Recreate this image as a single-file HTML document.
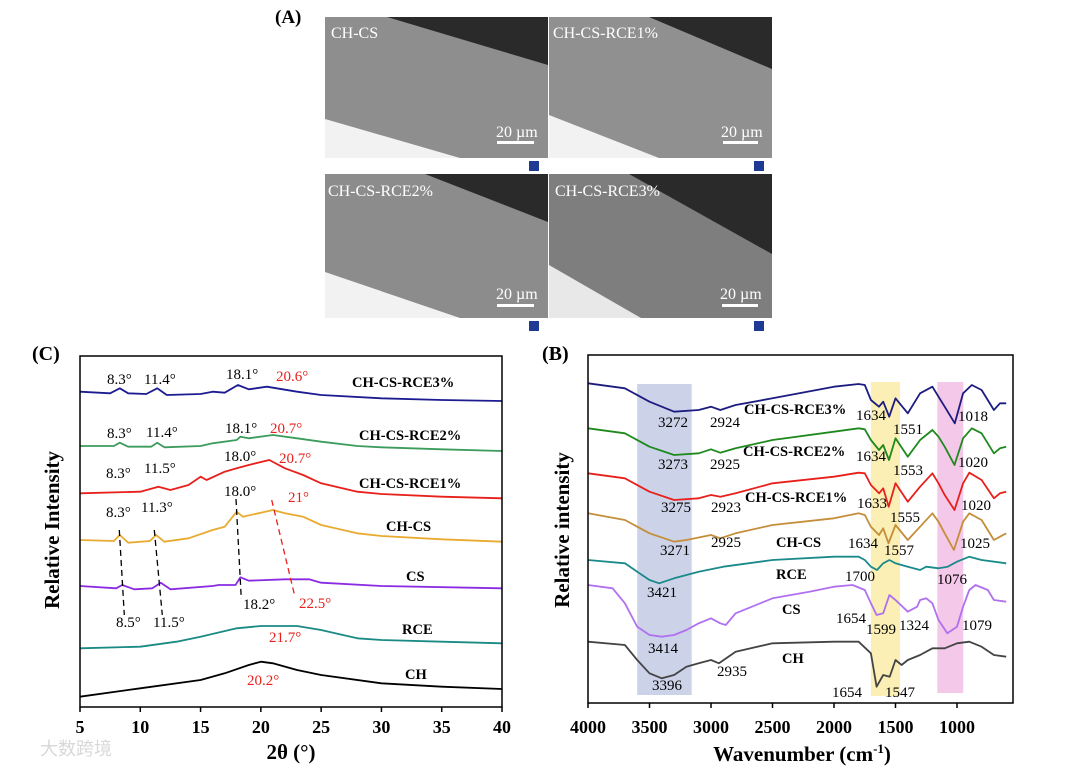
<!DOCTYPE html>
<html><head><meta charset="utf-8"><style>
html,body{margin:0;padding:0;background:#fff;}
svg{display:block;font-family:"Liberation Serif","Noto Serif CJK SC",serif;}
.b{font-weight:bold;}
</style></head><body>
<svg id="fig" width="1080" height="768" viewBox="0 0 1080 768" xmlns="http://www.w3.org/2000/svg">
<!-- Panel A -->
<text x="275" y="23" font-size="19" class="b">(A)</text>
<g transform="translate(325,17)">
<rect width="223" height="141" fill="#8e8e8e"/><polygon points="62,0 223,0 223,48" fill="#2a2a2a"/><polygon points="0,102 0,141 135,141" fill="#f2f2f2"/>
<rect y="141" width="223" height="16" fill="#fff"/><rect x="204" y="144" width="10" height="10" fill="#1f3a93"/>
<text x="6" y="21" font-size="16" fill="#fff">CH-CS</text><text x="171" y="120" font-size="16" fill="#fff">20 µm</text><rect x="172" y="124" width="37" height="3" fill="#fff"/>
</g>
<g transform="translate(549,17)">
<rect width="223" height="141" fill="#909090"/><polygon points="100,0 223,0 223,52" fill="#2a2a2a"/><polygon points="0,98 0,141 110,141" fill="#f2f2f2"/>
<rect y="141" width="223" height="16" fill="#fff"/><rect x="205" y="144" width="10" height="10" fill="#1f3a93"/>
<text x="4" y="21" font-size="16" fill="#fff">CH-CS-RCE1%</text><text x="172" y="120" font-size="16" fill="#fff">20 µm</text><rect x="174" y="124" width="35" height="3" fill="#fff"/>
</g>
<g transform="translate(325,174)">
<rect width="223" height="144" fill="#8c8c8c"/><polygon points="100,0 223,0 223,48" fill="#2a2a2a"/><polygon points="0,98 0,144 135,144" fill="#f2f2f2"/>
<rect y="144" width="223" height="15" fill="#fff"/><rect x="204" y="147" width="10" height="10" fill="#1f3a93"/>
<text x="3" y="22" font-size="16" fill="#fff">CH-CS-RCE2%</text><text x="171" y="125" font-size="16" fill="#fff">20 µm</text><rect x="172" y="130" width="37" height="3" fill="#fff"/>
</g>
<g transform="translate(549,174)">
<rect width="223" height="144" fill="#7e7e7e"/><polygon points="80,0 223,0 223,80" fill="#2a2a2a"/><polygon points="0,91 0,144 92,144" fill="#e8e8e8"/>
<rect y="144" width="223" height="15" fill="#fff"/><rect x="205" y="147" width="10" height="10" fill="#1f3a93"/>
<text x="6" y="22" font-size="16" fill="#fff">CH-CS-RCE3%</text><text x="171" y="125" font-size="16" fill="#fff">20 µm</text><rect x="173" y="130" width="36" height="3" fill="#fff"/>
</g>
<!-- Panel C -->
<text x="32" y="360" font-size="20" class="b">(C)</text>
<g id="xrd"></g>
<!-- Panel B -->
<text x="542" y="360" font-size="20" class="b">(B)</text>
<g id="ftir"></g>
<text x="40" y="755" font-size="18" fill="#d8d8d8" font-family="Liberation Sans, Noto Sans CJK SC, sans-serif">大数跨境</text>
</svg>
<script>
// ---------- XRD data (2θ, intensity a.u.) ----------
const xrdTicks = [5,10,15,20,25,30,35,40];
const chX = [5,10,15,17,19,20,21,23,25,30,35,40];
const chV = [31,56,81,101,126,136,131,111,96,71,61,54];
const rceX = [5,10,13,15,18,20,23,25,28,30,35,40];
const rceV = [176,181,196,211,236,243,243,231,206,201,196,191];
const csX = [5,8,8.5,9.5,11,11.7,12.5,16,16.5,17.9,18.3,19,22,24,25,30,40];
const csV = [363,356,366,353,356,373,353,363,366,366,389,379,383,383,373,363,356];
const chcsX = [5,7.8,8.3,9,10.8,11.3,12,14,16,17,18,18.5,20,21,22,23.5,25,28,30,35,40];
const chcsV = [501,498,516,493,498,516,496,506,531,541,586,571,583,591,581,571,546,521,513,503,496];
const r1X = [5,10,11.5,12.5,14,15,15.5,17,18,19,20.7,22,23.5,25,28,30,35,40];
const r1V = [641,646,661,651,666,691,681,706,716,726,741,716,696,671,646,639,631,626];
const r2X = [5,7.8,8.3,9,10.9,11.4,12,15,16,18,18.3,19,21,23,25,28,30,35,40];
const r2V = [783,783,793,781,781,793,779,783,791,801,811,806,816,806,796,783,779,773,768];
const r3X = [5,7.5,8.3,9,10.5,11.4,12.2,15,16,17,18.1,19,20.5,23,25,30,35,40];
const r3V = [946,941,956,941,939,956,936,939,946,943,966,953,961,946,936,926,921,918];

// ---------- FTIR data (wavenumber, intensity a.u.) ----------
const ftTicks = [4000,3500,3000,2500,2000,1500,1000];
const fChX = [4000,3700,3600,3500,3400,3300,3200,3100,3000,2935,2800,2500,2000,1800,1700,1654,1600,1547,1500,1450,1400,1300,1200,1100,1000,900,800,700,600];
const fChV = [184,174,129,89,74,84,109,119,129,119,154,179,184,184,149,49,84,79,129,114,129,144,164,164,179,184,169,144,139];
const fCsX = [4000,3800,3700,3600,3500,3400,3300,3200,3100,3000,2925,2880,2800,2500,2200,2000,1850,1750,1700,1654,1600,1550,1500,1400,1324,1300,1250,1200,1150,1079,1000,950,900,850,750,700,600];
const fCsV = [354,344,299,229,204,199,204,219,239,254,239,234,269,314,334,349,354,339,299,264,269,324,309,274,289,309,314,299,249,209,229,289,339,354,339,309,304];
const fRceX = [4000,3700,3600,3500,3421,3300,3100,2900,2500,2000,1800,1750,1700,1650,1600,1550,1500,1400,1300,1250,1150,1076,1000,900,800,600];
const fRceV = [429,419,394,369,359,374,394,409,429,439,439,429,409,399,419,429,419,409,399,409,404,409,424,439,429,419];
const fChcsX = [4000,3700,3500,3300,3200,3000,2925,2800,2500,2000,1800,1750,1700,1634,1600,1557,1500,1400,1300,1200,1150,1100,1025,950,900,800,700,650,600];
const fChcsV = [569,549,509,484,489,504,494,509,534,554,569,564,529,504,524,479,534,489,529,569,544,509,459,544,569,549,489,499,509];
const fR1X = [4000,3700,3500,3300,3100,3000,2923,2800,2500,2000,1800,1750,1700,1633,1600,1555,1500,1400,1300,1200,1150,1100,1020,950,900,800,700,650,600];
const fR1V = [689,674,634,609,614,624,619,629,659,679,691,689,654,629,644,589,659,604,649,689,659,624,579,659,691,669,614,629,634];
const fR2X = [4000,3700,3500,3300,3100,3000,2925,2800,2500,2000,1800,1750,1700,1634,1600,1553,1500,1400,1300,1200,1150,1100,1020,950,880,800,700,650,600];
const fR2V = [824,809,769,744,749,761,751,764,789,814,824,821,789,759,774,729,794,739,789,819,799,769,714,794,824,809,749,764,769];
const fR3X = [4000,3700,3500,3300,3100,3000,2924,2800,2500,2000,1800,1750,1700,1634,1600,1551,1500,1400,1300,1200,1150,1100,1018,950,880,800,700,650,600];
const fR3V = [959,944,904,874,879,889,879,894,914,949,957,954,909,889,904,859,914,869,929,949,919,889,839,929,954,939,879,899,899];
const bandLo = [3157,1463,949];
const bandHi = [3600,1700,1160];

const NS='http://www.w3.org/2000/svg';
function mk(parent,tag,attrs){const e=document.createElementNS(NS,tag);for(const k in attrs)e.setAttribute(k,attrs[k]);parent.appendChild(e);return e;}
function txt(parent,x,y,s,size,opts){const t=mk(parent,'text',{x:x,y:y,'font-size':size});if(opts&&opts.bold)t.setAttribute('font-weight','bold');if(opts&&opts.fill)t.setAttribute('fill',opts.fill);if(opts&&opts.anchor)t.setAttribute('text-anchor',opts.anchor);if(opts&&opts.rot)t.setAttribute('transform',opts.rot);t.textContent=s;return t;}

// ---------- XRD chart ----------
const xg=document.getElementById('xrd');
const XL=80,XR=502,XT=356,XB=707;
const xS=v=>XL+(v-5)/35*(XR-XL);
const yS=v=>XB-v/1053*(XB-XT);
[[chX,chV,'#000','ch'],[rceX,rceV,'#1a8a85','rce'],[csX,csV,'#8a2be2','cs'],[chcsX,chcsV,'#e8ab30','ch-cs'],[r1X,r1V,'#e8201c','ch-cs-rce1'],[r2X,r2V,'#3c9c5c','ch-cs-rce2'],[r3X,r3V,'#1c1c90','ch-cs-rce3']].forEach(s=>{
  const d=s[0].map((x,i)=>(i?'L':'M')+xS(x).toFixed(1)+','+yS(s[1][i]).toFixed(1)).join('');
  const p=mk(xg,'path',{d:d,fill:'none',stroke:s[2],'stroke-width':1.8,'stroke-linejoin':'round'});
  
  
});
const xf=mk(xg,'rect',{x:XL,y:XT,width:XR-XL,height:XB-XT,fill:'none',stroke:'#000','stroke-width':1.5});


xrdTicks.forEach(t=>{
  mk(xg,'line',{x1:xS(t),x2:xS(t),y1:XB,y2:XB+5,stroke:'#000','stroke-width':1.5});
  const l=txt(xg,xS(t),733,String(t),18,{bold:1,anchor:'middle'});
  
  
});
const xt=txt(xg,291,759,'2θ  (°)',21,{bold:1,anchor:'middle'});


const yt=txt(xg,0,0,'Relative Intensity',21,{bold:1,anchor:'middle',rot:'translate(59,530) rotate(-90)'});


[[119.3,530,124.3,615,'#000'],[154.3,530,162.3,615,'#000'],[236,499,241.3,599,'#000'],[271.7,500,295,597,'#e8201c']].forEach(l=>{
  const e=mk(xg,'line',{x1:l[0],y1:l[1],x2:l[2],y2:l[3],stroke:l[4],'stroke-width':1.3,'stroke-dasharray':'6,4'});
  
  
});
[[107,384,'8.3°'],[144,384,'11.4°'],[226,379,'18.1°'],[276,381,'20.6°',1],
 [107,438,'8.3°'],[146,437,'11.4°'],[225,433,'18.1°'],[270,433,'20.7°',1],
 [106,478,'8.3°'],[144,473,'11.5°'],[224,461,'18.0°'],[279,463,'20.7°',1],
 [106,517,'8.3°'],[141,512,'11.3°'],[224,496,'18.0°'],[288,502,'21°',1],
 [243,609,'18.2°'],[299,608,'22.5°',1],[116,627,'8.5°'],[153,627,'11.5°'],
 [269,642,'21.7°',1],[247,685,'20.2°',1]].forEach(a=>{
  const e=txt(xg,a[0],a[1],a[2],15,{fill:a[3]?'#e8201c':'#000'});
  
  
});
[[352,387,'CH-CS-RCE3%'],[359,440,'CH-CS-RCE2%'],[359,488,'CH-CS-RCE1%'],[386,531,'CH-CS'],[406,581,'CS'],[402,634,'RCE'],[405,679,'CH']].forEach(a=>{
  const e=txt(xg,a[0],a[1],a[2],14.5,{bold:1});
  
  
});

// ---------- FTIR chart ----------
const fg=document.getElementById('ftir');
const FL=588,FR=1013,FT=355,FB=703;
const fx=w=>FL+(4000-w)*0.123;
const fy=v=>FB-v/1044*(FB-FT);
const bandCol=['#ccd3e8','#fbefb5','#f4c8e8'];
const bandTop=[384,382,382],bandBot=[695,696,693];
bandLo.forEach((lo,i)=>{
  const r=mk(fg,'rect',{x:fx(bandHi[i]),y:bandTop[i],width:fx(lo)-fx(bandHi[i]),height:bandBot[i]-bandTop[i],fill:bandCol[i]});
  
  
});
[[fChX,fChV,'#444','ch'],[fCsX,fCsV,'#b070f0','cs'],[fRceX,fRceV,'#1a8a8a','rce'],[fChcsX,fChcsV,'#c48e3a','ch-cs'],[fR1X,fR1V,'#e8201c','ch-cs-rce1'],[fR2X,fR2V,'#1e8a1e','ch-cs-rce2'],[fR3X,fR3V,'#1c1c80','ch-cs-rce3']].forEach(s=>{
  const d=s[0].map((x,i)=>(i?'L':'M')+fx(x).toFixed(1)+','+fy(s[1][i]).toFixed(1)).join('');
  const p=mk(fg,'path',{d:d,fill:'none',stroke:s[2],'stroke-width':1.8,'stroke-linejoin':'round'});
  
  
});
const ff=mk(fg,'rect',{x:FL,y:FT,width:FR-FL,height:FB-FT,fill:'none',stroke:'#000','stroke-width':1.5});


ftTicks.forEach(t=>{
  mk(fg,'line',{x1:fx(t),x2:fx(t),y1:FB,y2:FB+5,stroke:'#000','stroke-width':1.5});
  const l=txt(fg,fx(t),733,String(t),18,{bold:1,anchor:'middle'});
  
  
});
const ft=mk(fg,'text',{x:802,y:761,'font-size':21,'font-weight':'bold','text-anchor':'middle'});
ft.innerHTML='Wavenumber (cm<tspan dy="-8" font-size="13">-1</tspan><tspan dy="8">)</tspan>';


const fyt=txt(fg,0,0,'Relative intensity',21,{bold:1,anchor:'middle',rot:'translate(569,530) rotate(-90)'});


[[658,427,'3272'],[710,427,'2924'],[856,420,'1634'],[893,434,'1551'],[958,421,'1018'],
 [658,469,'3273'],[710,469,'2925'],[856,461,'1634'],[893,475,'1553'],[958,467,'1020'],
 [661,512,'3275'],[711,512,'2923'],[857,508,'1633'],[890,522,'1555'],[961,510,'1020'],
 [660,555,'3271'],[711,547,'2925'],[848,548,'1634'],[884,555,'1557'],[960,548,'1025'],
 [647,597,'3421'],[845,581,'1700'],[937,584,'1076'],
 [836,623,'1654'],[866,634,'1599'],[899,630,'1324'],[962,630,'1079'],
 [648,653,'3414'],[717,676,'2935'],[832,697,'1654'],[652,690,'3396'],[885,697,'1547']].forEach(a=>{
  const e=txt(fg,a[0],a[1],a[2],15,{});
  
  
});
[[744,414,'CH-CS-RCE3%'],[743,456,'CH-CS-RCE2%'],[745,502,'CH-CS-RCE1%'],[776,547,'CH-CS'],[776,579,'RCE'],[782,614,'CS'],[782,663,'CH']].forEach(a=>{
  const e=txt(fg,a[0],a[1],a[2],14.5,{bold:1});
  
  
});
</script>
</body></html>
